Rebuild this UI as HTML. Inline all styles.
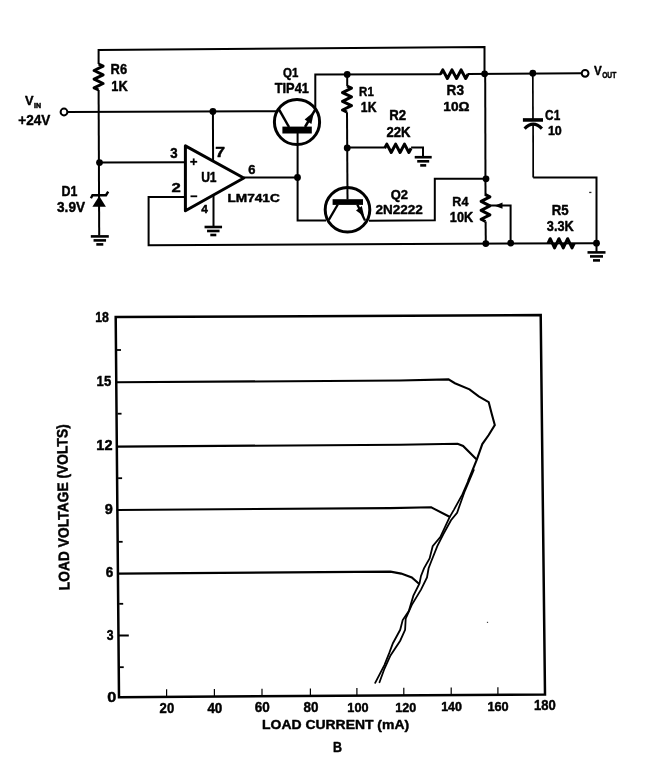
<!DOCTYPE html>
<html><head><meta charset="utf-8"><style>
html,body{margin:0;padding:0;background:#fff;}
svg{display:block;will-change:transform;}
svg path,svg circle{fill:none;stroke:#000;}
svg .f{fill:#000;stroke:none;}
svg rect.f{fill:#000;}
svg text{font-family:"Liberation Sans",sans-serif;font-weight:bold;fill:#000;stroke:#000;stroke-width:0.45px;stroke-linejoin:round;}
</style></head><body>
<svg width="656" height="762" viewBox="0 0 656 762">
<path d="M98.6,64 L98.6,50 L484.5,47 L484.5,74" stroke-width="2" stroke-linecap="butt"/>
<path d="M98.60,64.00 L103.10,66.17 L94.10,70.50 L103.10,74.83 L94.10,79.17 L103.10,83.50 L94.10,87.83 L98.60,90.00" stroke-width="3.0" stroke-linejoin="round"/>
<path d="M98.6,90 L99.2,235.5" stroke-width="2" stroke-linecap="butt"/>
<path d="M90.8,236.4 L108.8,236.4" stroke-width="2.6" stroke-linecap="butt"/>
<path d="M93.55,240.4 L106.05,240.4" stroke-width="2.6" stroke-linecap="butt"/>
<path d="M96.3,244.4 L103.3,244.4" stroke-width="2.6" stroke-linecap="butt"/>
<path d="M99.2,196 L92.4,206.8 L105.9,206.8 Z" class="f"/>
<path d="M90.9,198.2 L92.5,195.2 L106,195.2 L108.2,191.6" stroke-width="2.4" stroke-linecap="butt"/>
<circle cx="64" cy="112" r="3.4" stroke-width="2"/>
<path d="M67.4,112 L276,111.2" stroke-width="2" stroke-linecap="butt"/>
<circle cx="212.9" cy="111.4" r="3.4" class="f"/>
<path d="M212.9,111.4 L213.1,160.5" stroke-width="2" stroke-linecap="butt"/>
<circle cx="99.5" cy="162.6" r="3.4" class="f"/>
<path d="M99.5,162.4 L185.5,162.2" stroke-width="2" stroke-linecap="butt"/>
<path d="M185.4,145.9 L185.4,210.8 L243.8,178 Z" stroke-width="3" stroke-linejoin="round"/>
<path d="M185.5,197 L148.6,197 L148.6,245.3 L596.5,243.2" stroke-width="2" stroke-linecap="butt"/>
<path d="M213.5,196 L213.5,226.6" stroke-width="2" stroke-linecap="butt"/>
<path d="M204.55,227 L222.05,227" stroke-width="2.6" stroke-linecap="butt"/>
<path d="M207.05,231 L219.55,231" stroke-width="2.6" stroke-linecap="butt"/>
<path d="M210.3,235 L216.3,235" stroke-width="2.6" stroke-linecap="butt"/>
<path d="M243.8,177.6 L297.5,177.5" stroke-width="2" stroke-linecap="butt"/>
<circle cx="297.5" cy="177.5" r="3.4" class="f"/>
<circle cx="297" cy="122" r="22.6" stroke-width="3"/>
<rect x="282.4" y="126.6" width="29.4" height="6.9" class="f"/>
<path d="M278.8,109.2 L289,127" stroke-width="2.5" stroke-linecap="butt"/>
<path d="M305,127 L315.2,109.6" stroke-width="2.5" stroke-linecap="butt"/>
<path d="M314,111.8 L304.6,119.6 L311.4,124 Z" class="f"/>
<path d="M315.3,110.5 L315.3,74.5 L441,74.2" stroke-width="2" stroke-linecap="butt"/>
<path d="M297.6,133 L297.6,220.6 L326,220.6" stroke-width="2" stroke-linecap="butt"/>
<path d="M347.2,74.3 L347.2,86" stroke-width="2" stroke-linecap="butt"/>
<path d="M347.00,86.00 L351.50,88.18 L342.50,92.55 L351.50,96.92 L342.50,101.28 L351.50,105.65 L342.50,110.02 L347.00,112.20" stroke-width="3.0" stroke-linejoin="round"/>
<path d="M347,112.2 L347.5,199.5" stroke-width="2" stroke-linecap="butt"/>
<circle cx="347.2" cy="74.4" r="3.4" class="f"/>
<circle cx="347.2" cy="148" r="3.4" class="f"/>
<path d="M347.2,147.5 L384.6,147.4" stroke-width="2" stroke-linecap="butt"/>
<path d="M384.60,148.30 L386.81,144.10 L391.23,152.50 L395.64,144.10 L400.06,152.50 L404.48,144.10 L408.89,152.50 L411.10,148.30" stroke-width="3.0" stroke-linejoin="round"/>
<path d="M411.1,147.4 L423,147.4 L423,157" stroke-width="2" stroke-linecap="butt"/>
<path d="M414.7,157.2 L431.7,157.2" stroke-width="2.6" stroke-linecap="butt"/>
<path d="M417.2,161.3 L429.2,161.3" stroke-width="2.6" stroke-linecap="butt"/>
<path d="M420.2,165.4 L426.2,165.4" stroke-width="2.6" stroke-linecap="butt"/>
<circle cx="347.5" cy="209.75" r="22.3" stroke-width="3"/>
<rect x="332.6" y="199.2" width="30.4" height="5.7" class="f"/>
<path d="M337.8,204.5 L328.8,219.8" stroke-width="2.3" stroke-linecap="butt"/>
<path d="M357.3,204.5 L365,220.5" stroke-width="2.3" stroke-linecap="butt"/>
<path d="M364.2,216.6 L356,210.6 L361.8,206 Z" class="f"/>
<path d="M369,220.7 L434.8,220.2 L434.8,178.8 L486,178.8" stroke-width="2" stroke-linecap="butt"/>
<circle cx="486" cy="178.8" r="3.4" class="f"/>
<path d="M440.50,74.20 L442.79,69.90 L447.38,78.50 L451.96,69.90 L456.54,78.50 L461.12,69.90 L465.71,78.50 L468.00,74.20" stroke-width="3.0" stroke-linejoin="round"/>
<path d="M467.5,73.9 L581.6,73.2" stroke-width="2" stroke-linecap="butt"/>
<circle cx="484.6" cy="73.8" r="3.4" class="f"/>
<circle cx="532.8" cy="73.2" r="3.4" class="f"/>
<circle cx="585.1" cy="73.3" r="3.4" stroke-width="2"/>
<path d="M485.2,74 L485.5,196" stroke-width="2" stroke-linecap="butt"/>
<path d="M485.50,194.70 L489.90,196.93 L481.10,201.40 L489.90,205.87 L481.10,210.33 L489.90,214.80 L481.10,219.27 L485.50,221.50" stroke-width="3.0" stroke-linejoin="round"/>
<path d="M485.6,221.5 L485.8,243.6" stroke-width="2" stroke-linecap="butt"/>
<circle cx="485.8" cy="243.6" r="3.4" class="f"/>
<path d="M510.6,243 L510.6,205.6 L489.5,205.6" stroke-width="2" stroke-linecap="butt"/>
<path d="M494.5,205.7 L502.5,202.6 L502.5,208.8 Z" class="f"/>
<circle cx="510.7" cy="243.1" r="3.4" class="f"/>
<path d="M532.8,73.2 L533,120.5" stroke-width="1.7" stroke-linecap="butt"/>
<path d="M522.9,119.95 L543,119.95" stroke-width="3.6" stroke-linecap="butt"/>
<path d="M524.6,128.6 Q533.2,119.6 541.9,128.6" stroke-width="3.1"/>
<path d="M533.1,125 L533.2,177.6" stroke-width="1.7" stroke-linecap="butt"/>
<path d="M533.2,177.6 L596.5,177.4 L596.5,252" stroke-width="2" stroke-linecap="butt"/>
<circle cx="596.5" cy="243.2" r="3.4" class="f"/>
<path d="M587.5,252.4 L605.5,252.4" stroke-width="2.6" stroke-linecap="butt"/>
<path d="M590,256.4 L603,256.4" stroke-width="2.6" stroke-linecap="butt"/>
<path d="M593,260.4 L600,260.4" stroke-width="2.6" stroke-linecap="butt"/>
<path d="M548.00,243.30 L550.18,238.70 L554.55,247.90 L558.92,238.70 L563.28,247.90 L567.65,238.70 L572.02,247.90 L574.20,243.30" stroke-width="3.0" stroke-linejoin="round"/>
<rect x="589.2" y="191.8" width="2.2" height="1.3" fill="#222"/>
<rect x="486.9" y="621.8" width="1.2" height="1.2" fill="#444"/>
<path d="M115.7,317.1 L540.7,315.1 L545,694.5 L119,697.2 L115.7,317.1" stroke-width="2.5" stroke-linecap="square"/>
<path d="M118.2,635.5 L128.8,635.5" stroke-width="2" stroke-linecap="butt"/>
<path d="M116.986,350 L120.986,350" stroke-width="1.8" stroke-linecap="butt"/>
<path d="M117.539,413.7 L121.539,413.7" stroke-width="1.8" stroke-linecap="butt"/>
<path d="M118.099,478.2 L122.099,478.2" stroke-width="1.8" stroke-linecap="butt"/>
<path d="M118.651,541.8 L122.651,541.8" stroke-width="1.8" stroke-linecap="butt"/>
<path d="M119.189,603.8 L123.189,603.8" stroke-width="1.8" stroke-linecap="butt"/>
<path d="M119.74,667.2 L123.74,667.2" stroke-width="1.8" stroke-linecap="butt"/>
<path d="M166.6,696.898 L166.6,689.298" stroke-width="1.2" stroke-linecap="butt"/>
<path d="M214.4,696.595 L214.4,688.995" stroke-width="1.2" stroke-linecap="butt"/>
<path d="M262,696.294 L262,688.694" stroke-width="1.2" stroke-linecap="butt"/>
<path d="M310.4,695.987 L310.4,688.387" stroke-width="1.2" stroke-linecap="butt"/>
<path d="M356.9,695.692 L356.9,688.092" stroke-width="1.2" stroke-linecap="butt"/>
<path d="M403.8,695.395 L403.8,687.795" stroke-width="1.2" stroke-linecap="butt"/>
<path d="M451.2,695.095 L451.2,687.495" stroke-width="1.2" stroke-linecap="butt"/>
<path d="M497.9,694.799 L497.9,687.199" stroke-width="1.2" stroke-linecap="butt"/>
<path d="M116.5,382.3 L400,380.5 L448.5,379.4 L454.9,383.2 L469.5,389.3 L478.7,396.4 L488.7,402.1 L491.5,413 L494.8,425 L488.7,435 L482.3,444.1 L476.8,459.7 L468.6,480" stroke-width="2.1" stroke-linecap="round"/>
<path d="M117,446.6 L400,444.7 L457.6,443.8 L463.1,446 L475.9,458.8" stroke-width="2.1" stroke-linecap="round"/>
<path d="M117.5,510 L390,508.1 L431.2,507.3 L434.2,508.9 L449.5,516.8" stroke-width="2.1" stroke-linecap="round"/>
<path d="M118,573.6 L390.5,571.6 L401.2,573.6 L411.8,577.4 L418.7,583.5" stroke-width="2.1" stroke-linecap="round"/>
<path d="M468.6,480 L462.4,494.4 L454,509.6 L449.5,517.3 L440.3,537.1 L432.7,546.2 L429.6,558.4 L424,568.3 L421,575.9 L419.5,583.5 L413.4,595.7 L408.8,611 L402.7,620 L400.2,629.8 L392.9,643.2 L389.3,652.9 L384.4,665.1 L375.2,682.8" stroke-width="1.8" stroke-linecap="round"/>
<path d="M473.8,470 L464.7,491.3 L457.1,512.7 L451,520.3 L443.4,534 L437.3,546.2 L431.2,561.5 L428.6,568.3 L427,577.4 L421,589.6 L411.8,604.9 L405.7,618.6 L405.1,629.8 L400.2,640.7 L390.5,655.4 L384.4,668.8 L379.5,682.2" stroke-width="1.8" stroke-linecap="round"/>
<text x="110.58" y="74.42" font-size="15.21" textLength="16.49" lengthAdjust="spacingAndGlyphs">R6</text>
<text x="111.28" y="90.68" font-size="15.33" textLength="16.41" lengthAdjust="spacingAndGlyphs">1K</text>
<text x="18.30" y="125.41" font-size="15.44" textLength="32.06" lengthAdjust="spacingAndGlyphs">+24V</text>
<text x="61.50" y="195.90" font-size="14.77" textLength="15.89" lengthAdjust="spacingAndGlyphs">D1</text>
<text x="57.06" y="212.10" font-size="14.66" textLength="28.02" lengthAdjust="spacingAndGlyphs">3.9V</text>
<text x="170.29" y="157.72" font-size="13.77" textLength="7.38" lengthAdjust="spacingAndGlyphs">3</text>
<text x="215.26" y="156.54" font-size="13.71" textLength="9.80" lengthAdjust="spacingAndGlyphs">7</text>
<text x="201.13" y="181.68" font-size="14.62" textLength="15.43" lengthAdjust="spacingAndGlyphs">U1</text>
<text x="248.27" y="173.87" font-size="12.40" textLength="7.20" lengthAdjust="spacingAndGlyphs">6</text>
<text x="171.62" y="191.84" font-size="13.32" textLength="9.27" lengthAdjust="spacingAndGlyphs">2</text>
<text x="227.43" y="202.32" font-size="11.65" textLength="52.40" lengthAdjust="spacingAndGlyphs">LM741C</text>
<text x="201.24" y="213.38" font-size="11.80" textLength="6.64" lengthAdjust="spacingAndGlyphs">4</text>
<text x="283.07" y="76.90" font-size="12.80" textLength="15.28" lengthAdjust="spacingAndGlyphs">Q1</text>
<text x="274.73" y="93.10" font-size="14.06" textLength="34.15" lengthAdjust="spacingAndGlyphs">TIP41</text>
<text x="359.09" y="95.82" font-size="13.69" textLength="14.69" lengthAdjust="spacingAndGlyphs">R1</text>
<text x="360.87" y="111.98" font-size="13.71" textLength="15.66" lengthAdjust="spacingAndGlyphs">1K</text>
<text x="389.30" y="120.12" font-size="14.51" textLength="16.92" lengthAdjust="spacingAndGlyphs">R2</text>
<text x="386.40" y="136.55" font-size="14.80" textLength="24.10" lengthAdjust="spacingAndGlyphs">22K</text>
<text x="390.83" y="198.60" font-size="12.80" textLength="17.21" lengthAdjust="spacingAndGlyphs">Q2</text>
<text x="375.41" y="214.36" font-size="13.29" textLength="47.23" lengthAdjust="spacingAndGlyphs">2N2222</text>
<text x="446.58" y="94.65" font-size="15.30" textLength="17.38" lengthAdjust="spacingAndGlyphs">R3</text>
<text x="443.39" y="111.48" font-size="13.19" textLength="26.15" lengthAdjust="spacingAndGlyphs">10Ω</text>
<text x="545.11" y="119.81" font-size="14.01" textLength="15.10" lengthAdjust="spacingAndGlyphs">C1</text>
<text x="547.90" y="135.20" font-size="13.15" textLength="13.92" lengthAdjust="spacingAndGlyphs">10</text>
<text x="452.36" y="205.94" font-size="13.29" textLength="16.02" lengthAdjust="spacingAndGlyphs">R4</text>
<text x="449.85" y="221.68" font-size="14.10" textLength="23.29" lengthAdjust="spacingAndGlyphs">10K</text>
<text x="551.73" y="214.65" font-size="13.81" textLength="16.87" lengthAdjust="spacingAndGlyphs">R5</text>
<text x="546.83" y="231.27" font-size="15.36" textLength="26.86" lengthAdjust="spacingAndGlyphs">3.3K</text>
<text x="25.11" y="104.80" font-size="13.14" textLength="8.54" lengthAdjust="spacingAndGlyphs">V</text>
<text x="34.13" y="107.86" font-size="6.34" textLength="7.04" lengthAdjust="spacingAndGlyphs">IN</text>
<text x="594.00" y="74.80" font-size="12.89" textLength="7.77" lengthAdjust="spacingAndGlyphs">V</text>
<text x="602.16" y="77.63" font-size="8.29" textLength="14.10" lengthAdjust="spacingAndGlyphs">OUT</text>
<text x="95.28" y="322.39" font-size="14.86" textLength="13.65" lengthAdjust="spacingAndGlyphs">18</text>
<text x="96.62" y="386.46" font-size="15.50" textLength="14.62" lengthAdjust="spacingAndGlyphs">15</text>
<text x="96.32" y="450.18" font-size="13.74" textLength="16.14" lengthAdjust="spacingAndGlyphs">12</text>
<text x="104.83" y="514.02" font-size="14.31" textLength="8.05" lengthAdjust="spacingAndGlyphs">9</text>
<text x="105.79" y="576.91" font-size="13.81" textLength="7.51" lengthAdjust="spacingAndGlyphs">6</text>
<text x="106.73" y="639.53" font-size="13.94" textLength="6.79" lengthAdjust="spacingAndGlyphs">3</text>
<text x="107.34" y="702.42" font-size="14.24" textLength="9.05" lengthAdjust="spacingAndGlyphs">0</text>
<text x="159.61" y="712.71" font-size="14.12" textLength="14.57" lengthAdjust="spacingAndGlyphs">20</text>
<text x="207.40" y="713.00" font-size="13.81" textLength="14.95" lengthAdjust="spacingAndGlyphs">40</text>
<text x="254.82" y="712.09" font-size="14.78" textLength="14.99" lengthAdjust="spacingAndGlyphs">60</text>
<text x="303.61" y="711.65" font-size="14.32" textLength="14.93" lengthAdjust="spacingAndGlyphs">80</text>
<text x="347.36" y="712.20" font-size="13.47" textLength="21.16" lengthAdjust="spacingAndGlyphs">100</text>
<text x="395.19" y="712.41" font-size="13.32" textLength="20.92" lengthAdjust="spacingAndGlyphs">120</text>
<text x="441.20" y="710.64" font-size="11.95" textLength="20.71" lengthAdjust="spacingAndGlyphs">140</text>
<text x="487.45" y="710.71" font-size="12.46" textLength="21.22" lengthAdjust="spacingAndGlyphs">160</text>
<text x="533.98" y="709.50" font-size="13.84" textLength="21.76" lengthAdjust="spacingAndGlyphs">180</text>
<text x="262.08" y="729.08" font-size="13.55" textLength="147.00" lengthAdjust="spacingAndGlyphs">LOAD CURRENT (mA)</text>
<text x="332.96" y="751.68" font-size="13.77" textLength="8.99" lengthAdjust="spacingAndGlyphs">B</text>
<path d="M190.2,161.8 L197.2,161.8" stroke-width="1.8" stroke-linecap="butt"/>
<path d="M193.7,158.4 L193.7,165.2" stroke-width="1.8" stroke-linecap="butt"/>
<path d="M190.5,196.3 L197.2,196.3" stroke-width="1.8" stroke-linecap="butt"/>
<text transform="translate(69.4,590.2) rotate(-90.76)" font-size="15.0" textLength="166.0" lengthAdjust="spacingAndGlyphs">LOAD VOLTAGE (VOLTS)</text>
</svg>
</body></html>
